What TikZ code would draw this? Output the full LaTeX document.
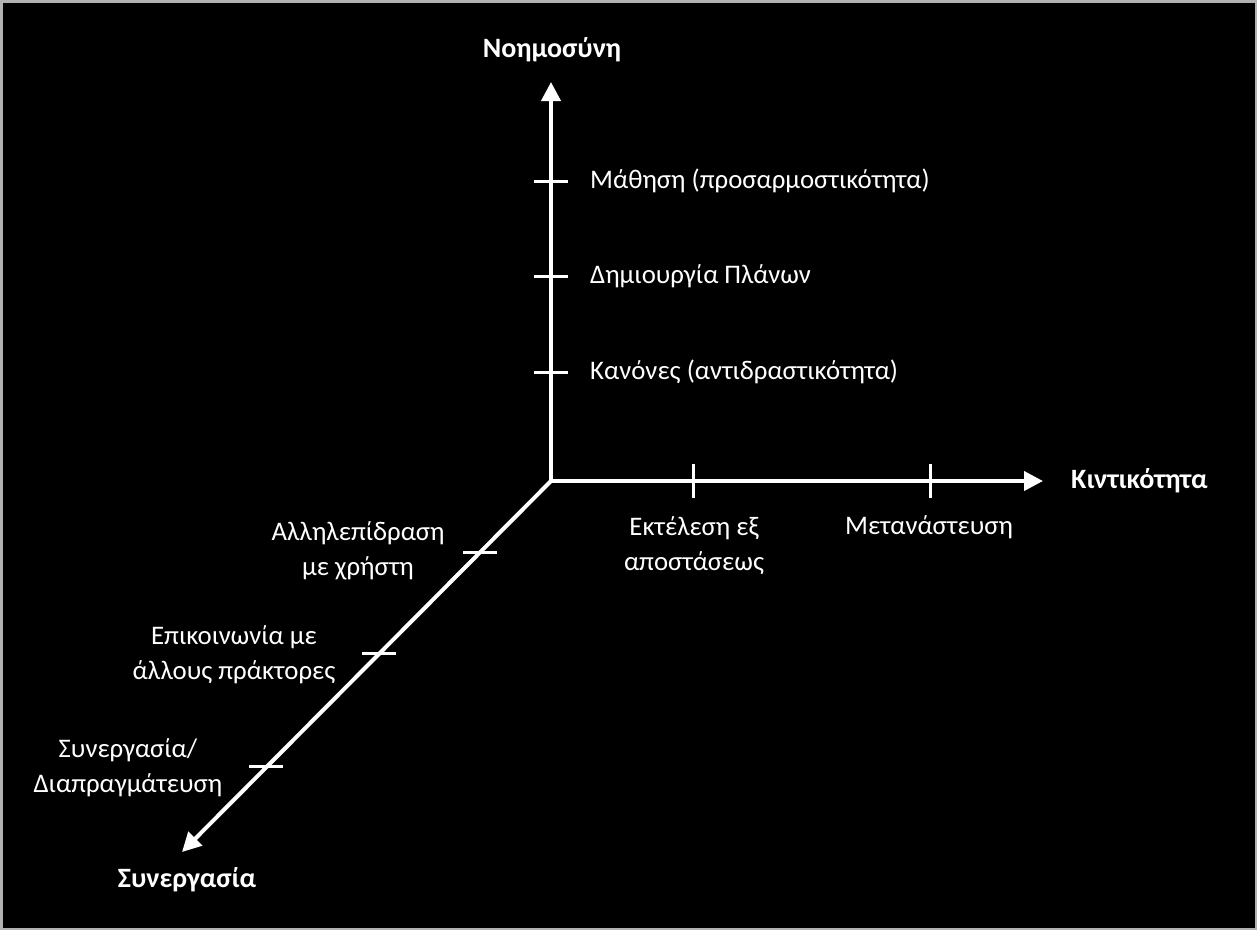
\documentclass[tikz,border=0pt]{standalone}
\usepackage{fontspec}
\setmainfont{Carlito}
\usetikzlibrary{arrows.meta,positioning}

\begin{document}
\begin{tikzpicture}[x=1pt, y=-1pt,
  axis/.style={draw=white, line width=4pt, -{Triangle[length=19pt,width=19pt]}},
  tick/.style={draw=white, line width=3pt},
  lbl/.style={text=white, font=\fontsize{26.8}{35}\selectfont, align=center, inner sep=0pt},
  ttl/.style={text=white, font=\fontsize{28}{35}\selectfont\bfseries, inner sep=0pt}
]
\useasboundingbox (0,0) rectangle (1257,930);
\draw[draw=gray!60, line width=2.5pt, fill=black] (1.25,1.25) rectangle (1255.75,928.75);

\coordinate (o) at (551,481);
\coordinate (up) at (551,82);
\coordinate (right) at (1043,481);
\coordinate (down) at (182,852);

\coordinate (v1) at (551,372);
\coordinate (v2) at (551,276);
\coordinate (v3) at (551,181);
\coordinate (h1) at (693,481);
\coordinate (h2) at (930,481);
\coordinate (d1) at (480,552);
\coordinate (d2) at (379,653);
\coordinate (d3) at (266,766);

\draw[axis] (o) -- (up);
\draw[axis] (o) -- (right);
\draw[axis] (o) -- (down);

\draw[tick] ([xshift=-17pt]v1) -- ([xshift=17pt]v1);
\draw[tick] ([xshift=-17pt]v2) -- ([xshift=17pt]v2);
\draw[tick] ([xshift=-17pt]v3) -- ([xshift=17pt]v3);
\draw[tick] ([yshift=-17pt]h1) -- ([yshift=17pt]h1);
\draw[tick] ([yshift=-17pt]h2) -- ([yshift=17pt]h2);
\draw[tick] ([xshift=-17pt]d1) -- ([xshift=17pt]d1);
\draw[tick] ([xshift=-17pt]d2) -- ([xshift=17pt]d2);
\draw[tick] ([xshift=-17pt]d3) -- ([xshift=17pt]d3);

\node[ttl] (intel) at (552,50) {Νοημοσύνη};
\node[ttl, anchor=west] (mobil) at (1071,481) {Κιντικότητα};
\node[ttl] (coop) at (187,880) {Συνεργασία};

\node[lbl, anchor=west] (learn) at (590,181) {Μάθηση (προσαρμοστικότητα)};
\node[lbl, anchor=west] (plans) at (590,276) {Δημιουργία Πλάνων};
\node[lbl, anchor=west] (rules) at (590,372) {Κανόνες (αντιδραστικότητα)};

\node[lbl] (remote) at (694,546) {Εκτέλεση εξ\\αποστάσεως};
\node[lbl] (migr) at (929,527) {Μετανάστευση};

\node[lbl] (user) at (358,551) {Αλληλεπίδραση\\με χρήστη};
\node[lbl] (agents) at (234,655) {Επικοινωνία με\\άλλους πράκτορες};
\node[lbl] (negot) at (128,768) {Συνεργασία/\\Διαπραγμάτευση};
\end{tikzpicture}
\end{document}
